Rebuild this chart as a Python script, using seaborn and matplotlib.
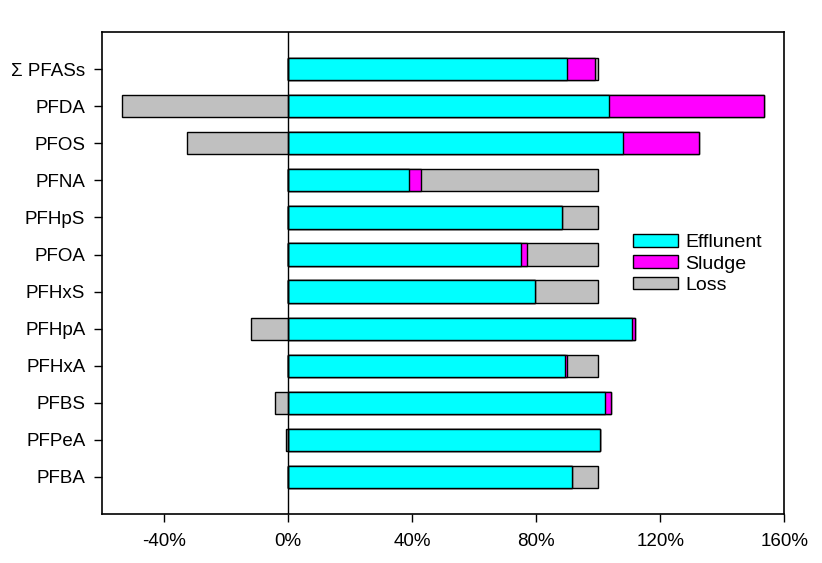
import matplotlib
matplotlib.use("Agg")
import matplotlib.pyplot as plt
from matplotlib.patches import Patch
import seaborn as sns
import numpy as np
import pandas as pd

compounds = ["Σ PFASs", "PFDA", "PFOS", "PFNA", "PFHpS", "PFOA", "PFHxS",
             "PFHpA", "PFHxA", "PFBS", "PFPeA", "PFBA"]
effluent = [90.0, 103.5, 108.0, 39.0, 88.5, 75.0, 79.5, 110.8, 89.3, 102.2, 100.6, 91.5]
sludge   = [9.0, 50.0, 24.5, 4.0, 0.0, 2.0, 0.0, 1.2, 0.7, 2.0, 0.0, 0.0]
loss     = [1.0, -53.5, -32.5, 57.0, 11.5, 23.0, 20.5, -12.0, 10.0, -4.2, -0.6, 8.5]
xticks = [-40, 0, 40, 80, 120, 160]

sns.set_theme(style="white")
plt.rcParams["font.family"] = ["Liberation Sans", "DejaVu Sans"]
plt.rcParams["text.color"] = "black"

eff = np.array(effluent)
slu = np.array(sludge)
los = np.array(loss)
df = pd.DataFrame({
    "compound": compounds,
    "eff": eff,
    "eff_slu": eff + slu,
    "pos_total": eff + slu + np.clip(los, 0, None),
    "neg_loss": np.clip(los, None, 0),
})

fig, ax = plt.subplots(figsize=(8.22, 5.63), dpi=100)
fig.subplots_adjust(left=0.124, right=0.954, top=0.943, bottom=0.087)

c_eff, c_slu, c_loss = "#00FFFF", "#FF00FF", "#C0C0C0"
common = dict(y="compound", order=compounds, orient="h", width=0.6,
              edgecolor="black", linewidth=1.0, ax=ax)
sns.barplot(data=df, x="pos_total", color=c_loss, saturation=1, **common)
sns.barplot(data=df, x="eff_slu", color=c_slu, saturation=1, **common)
sns.barplot(data=df, x="eff", color=c_eff, saturation=1, **common)
sns.barplot(data=df, x="neg_loss", color=c_loss, saturation=1, **common)

ax.axvline(0, color="black", lw=1.0, zorder=5)
ax.set_xlim(-60, 160)
ax.set_ylim(12, -1)
ax.set_xticks(xticks)
ax.set_xticklabels([f"{t}%" for t in xticks])
ax.set_xlabel("")
ax.set_ylabel("")
ax.tick_params(axis="both", which="major", labelsize=13.5, length=6, width=1,
               direction="out", color="black", labelcolor="black")
ax.tick_params(axis="x", pad=8)
ax.tick_params(axis="y", pad=6)
ax.xaxis.set_ticks_position("bottom")
ax.yaxis.set_ticks_position("left")
for s in ax.spines.values():
    s.set_visible(True)
    s.set_color("black")
    s.set_linewidth(1.2)

handles = [Patch(facecolor=c_eff, edgecolor="black", lw=1.0, label="Efflunent"),
           Patch(facecolor=c_slu, edgecolor="black", lw=1.0, label="Sludge"),
           Patch(facecolor=c_loss, edgecolor="black", lw=1.0, label="Loss")]
ax.legend(handles=handles, loc="upper left", bbox_to_anchor=(0.767, 0.597),
          frameon=False, fontsize=14, handlelength=2.3, handleheight=0.65,
          labelspacing=0.2, handletextpad=0.4, borderaxespad=0,
          labelcolor="black")

fig.savefig("out.png", dpi=100)
